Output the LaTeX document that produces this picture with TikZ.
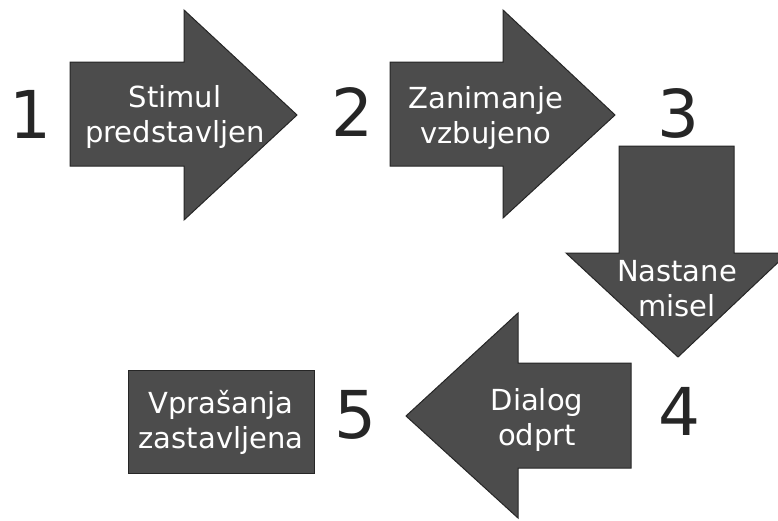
\documentclass[tikz,border=0pt]{standalone}
\usepackage{fontspec}
\setmainfont{DejaVu Sans}
\begin{document}
\begin{tikzpicture}[x=1pt,y=-1pt,
  blockshape/.style={fill=black!70,draw=black!85,line width=1pt,line join=miter},
  lbl/.style={text=white,font=\fontsize{29}{35}\selectfont,align=center,inner sep=0pt},
  num/.style={font=\fontsize{66}{66}\selectfont,text=black!85,inner sep=0pt}]
\useasboundingbox (0,0) rectangle (778,520);
\clip (0,0) rectangle (778,520);
% arrow 1
\draw[blockshape] (70,62) -- (184,62) -- (184,10) -- (297,115) -- (184,220) -- (184,166) -- (70,166) -- cycle;
% arrow 2
\draw[blockshape] (390,62) -- (503,62) -- (503,10) -- (615,115) -- (503,218) -- (503,166) -- (390,166) -- cycle;
% arrow 3 (down)
\draw[blockshape] (619,146) -- (734,146) -- (734,253) -- (788,253) -- (678,357) -- (566,253) -- (619,253) -- cycle;
% arrow 4 (left)
\draw[blockshape] (631,363) -- (518,363) -- (518,313) -- (406,416) -- (518,518) -- (518,468) -- (631,468) -- cycle;
% box 5
\draw[blockshape] (128,370) rectangle (314,473);
% labels
\node[lbl] (t1) at (175,117) {Stimul\\predstavljen};
\node[lbl] (t2) at (486,118) {Zanimanje\\vzbujeno};
\node[lbl] (t3) at (677,289) {Nastane\\misel};
\node[lbl] (t4) at (537,420) {Dialog\\odprt};
\node[lbl] (t5) at (221,422) {Vprašanja\\zastavljena};
% numbers
\node[num] (n1) at (30,114) {1};
\node[num] (n2) at (352,112) {2};
\node[num] (n3) at (678,113) {3};
\node[num] (n4) at (679,411) {4};
\node[num] (n5) at (355,415) {5};
\end{tikzpicture}
\end{document}
